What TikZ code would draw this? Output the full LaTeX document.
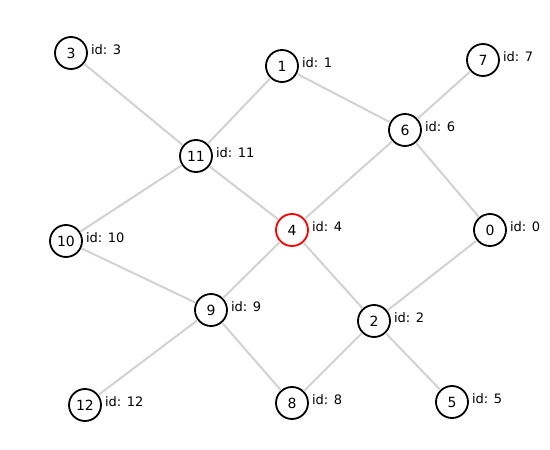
\documentclass[tikz,border=0pt]{standalone}
\usepackage{fontspec}
\setmainfont{DejaVu Sans}
\begin{document}
\begin{tikzpicture}[x=1pt,y=-1pt,
  vert/.style={circle,draw=black,line width=1.8pt,fill=white,minimum size=32pt,inner sep=0pt,font=\fontsize{14}{14}\selectfont},
  hot/.style={vert,draw=red},
  lbl/.style={anchor=west,inner sep=0pt,font=\fontsize{13}{13}\selectfont},
  edge/.style={draw={rgb,255:red,210;green,210;blue,210},line width=2pt}]
\useasboundingbox (0,0) rectangle (550,450);
\fill[white] (0,0) rectangle (550,450);
\node[vert] (n3) at (71,53) {3};
\node[vert] (n1) at (282,66) {1};
\node[vert] (n7) at (483,60) {7};
\node[vert] (n6) at (405,130) {6};
\node[vert] (n11) at (196,156) {11};
\node[vert] (n10) at (66,241) {10};
\node[hot] (n4) at (292,230) {4};
\node[vert] (n0) at (490,230) {0};
\node[vert] (n9) at (211,310) {9};
\node[vert] (n2) at (374,321) {2};
\node[vert] (n12) at (85,405) {12};
\node[vert] (n8) at (292,403) {8};
\node[vert] (n5) at (452,402) {5};
\foreach \a/\b in {n3/n11,n1/n11,n1/n6,n7/n6,n6/n4,n6/n0,n11/n4,n11/n10,n10/n9,n4/n9,n4/n2,n0/n2,n9/n12,n9/n8,n2/n8,n2/n5}
  \path[edge] (\a) -- (\b);
\foreach \n/\t in {n3/3,n1/1,n7/7,n6/6,n11/11,n10/10,n4/4,n0/0,n9/9,n2/2,n12/12,n8/8,n5/5}
  \node[lbl] (l\n) at ([xshift=3pt,yshift=3pt]\n.east) {id: \t};
\end{tikzpicture}
\end{document}
